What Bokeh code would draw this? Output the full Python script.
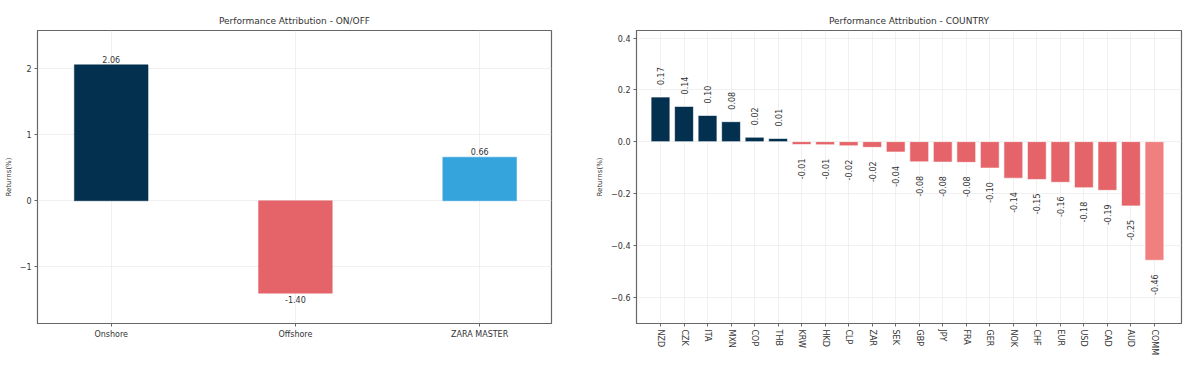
import math
from bokeh.plotting import figure
from bokeh.layouts import row
from bokeh.models import ColumnDataSource, FixedTicker, Range1d
from bokeh.core.properties import value
from bokeh.embed import file_html
from bokeh.resources import INLINE

# ---------------- data ----------------
onoff_categories = ["Onshore", "Offshore", "ZARA MASTER"]
onoff_returns = [2.06, -1.40, 0.66]

country_categories = ["NZD", "CZK", "ITA", "MXN", "COP", "THB", "KRW", "HKD", "CLP", "ZAR", "SEK",
                      "GBP", "JPY", "FRA", "GER", "NOK", "CHF", "EUR", "USD", "CAD", "AUD", "COMM"]
country_returns = [0.172, 0.136, 0.101, 0.077, 0.017, 0.012, -0.011, -0.012, -0.016, -0.022, -0.040,
                   -0.078, -0.079, -0.080, -0.102, -0.141, -0.146, -0.157, -0.178, -0.188, -0.248, -0.458]

left_yticks = [-1, 0, 1, 2]
right_yticks = [-0.6, -0.4, -0.2, 0.0, 0.2, 0.4]

# ---------------- styles ----------------
NAVY = "#04304f"
RED = "#e4646a"
LIGHT_RED = "#f08080"
BLUE = "#35a3dc"
FONT = "DejaVu Sans"
GRID = "#ececec"


def minus(s):
    return s.replace("-", "\u2212")


def style(p):
    p.title.text_font = FONT
    p.title.text_font_size = "9px"
    p.title.text_font_style = "normal"
    p.title.align = "center"
    p.title.text_color = "#333333"
    p.outline_line_color = "#666666"
    p.outline_line_width = 1.2
    for ax in (p.xaxis, p.yaxis):
        ax.major_label_text_font = FONT
        ax.major_label_text_font_size = "8px"
        ax.major_label_text_color = "#333333"
        ax.axis_line_color = "#666666"
        ax.major_tick_line_color = "#666666"
        ax.major_tick_out = 3
        ax.major_tick_in = 0
        ax.minor_tick_line_color = None
        ax.major_label_standoff = 3
    p.yaxis.axis_label = "Returns(%)"
    p.yaxis.axis_label_text_font = FONT
    p.yaxis.axis_label_text_font_size = "7px"
    p.yaxis.axis_label_text_font_style = "normal"
    p.yaxis.axis_label_text_color = "#333333"
    p.yaxis.axis_label_standoff = 4
    p.xgrid.grid_line_color = GRID
    p.ygrid.grid_line_color = GRID
    p.xgrid.grid_line_width = 0.8
    p.ygrid.grid_line_width = 0.8


# ---------------- left chart ----------------
n1 = len(onoff_categories)
x1 = list(range(n1))
colors1 = []
for c, v in zip(onoff_categories, onoff_returns):
    if c == "ZARA MASTER":
        colors1.append(BLUE)
    elif v >= 0:
        colors1.append(NAVY)
    else:
        colors1.append(RED)

src1 = ColumnDataSource(dict(x=x1, top=onoff_returns, color=colors1))

p1 = figure(width=593, height=366, x_range=Range1d(-0.40, 2.39), y_range=Range1d(-1.86, 2.58),
            title="Performance Attribution - ON/OFF", output_backend="svg", toolbar_location=None,
            min_border_left=37, min_border_right=42, min_border_top=30, min_border_bottom=43)
p1.vbar(x="x", top="top", bottom=0, width=0.4, fill_color="color", line_color="color",
        line_width=0.5, source=src1)

pos1 = ColumnDataSource(dict(
    x=[x for x, v in zip(x1, onoff_returns) if v >= 0],
    y=[v for v in onoff_returns if v >= 0],
    t=[f"{v:.2f}" for v in onoff_returns if v >= 0]))
neg1 = ColumnDataSource(dict(
    x=[x for x, v in zip(x1, onoff_returns) if v < 0],
    y=[v for v in onoff_returns if v < 0],
    t=[f"{v:.2f}" for v in onoff_returns if v < 0]))
p1.text(x="x", y="y", text="t", source=pos1, text_align="center", text_baseline="bottom",
        y_offset=-2, text_font=value(FONT), text_font_size="8px", text_color="#333333")
p1.text(x="x", y="y", text="t", source=neg1, text_align="center", text_baseline="top",
        y_offset=3, text_font=value(FONT), text_font_size="8px", text_color="#333333")

style(p1)
p1.xaxis.ticker = FixedTicker(ticks=x1)
p1.xaxis.major_label_overrides = {i: c for i, c in zip(x1, onoff_categories)}
p1.yaxis.ticker = FixedTicker(ticks=left_yticks)
p1.yaxis.major_label_overrides = {t: minus(str(t)) for t in left_yticks}

# ---------------- right chart ----------------
n2 = len(country_categories)
x2 = list(range(n2))
colors2 = []
for c, v in zip(country_categories, country_returns):
    if c == "COMM":
        colors2.append(LIGHT_RED)
    elif v >= 0:
        colors2.append(NAVY)
    else:
        colors2.append(RED)

src2 = ColumnDataSource(dict(x=x2, top=country_returns, color=colors2))

p2 = figure(width=599, height=366, x_range=Range1d(-1.02, 22.15), y_range=Range1d(-0.702, 0.429),
            title="Performance Attribution - COUNTRY", output_backend="svg", toolbar_location=None,
            min_border_left=42, min_border_right=11, min_border_top=29, min_border_bottom=39)
p2.vbar(x="x", top="top", bottom=0, width=0.8, fill_color="color", line_color="white",
        line_width=0.6, source=src2)

pos2 = ColumnDataSource(dict(
    x=[x for x, v in zip(x2, country_returns) if v >= 0],
    y=[v for v in country_returns if v >= 0],
    t=[f"{v:.2f}" for v in country_returns if v >= 0]))
neg2 = ColumnDataSource(dict(
    x=[x for x, v in zip(x2, country_returns) if v < 0],
    y=[v for v in country_returns if v < 0],
    t=[f"{v:.2f}" for v in country_returns if v < 0]))
p2.text(x="x", y="y", text="t", source=pos2, angle=math.pi / 2, text_align="left",
        text_baseline="middle", y_offset=-12, text_font=value(FONT), text_font_size="8px",
        text_color="#333333")
p2.text(x="x", y="y", text="t", source=neg2, angle=math.pi / 2, text_align="right",
        text_baseline="middle", y_offset=14, text_font=value(FONT), text_font_size="8px",
        text_color="#333333")

style(p2)
p2.xaxis.ticker = FixedTicker(ticks=x2)
p2.xaxis.major_label_overrides = {i: c for i, c in zip(x2, country_categories)}
p2.xaxis.major_label_orientation = "vertical"
p2.yaxis.ticker = FixedTicker(ticks=right_yticks)
p2.yaxis.major_label_overrides = {t: minus(f"{t:.1f}") for t in right_yticks}

layout = row(p1, p2)
open("out.html", "w").write(file_html(layout, INLINE))
